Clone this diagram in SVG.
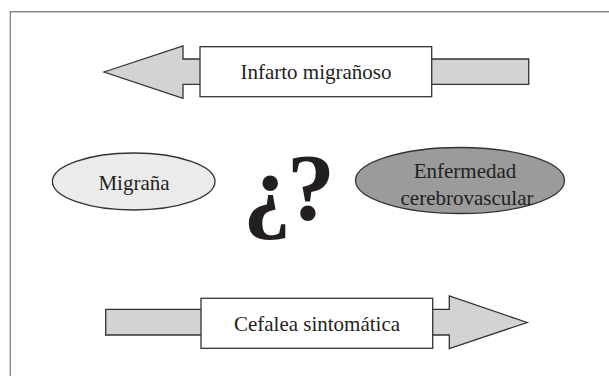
<svg xmlns="http://www.w3.org/2000/svg" width="609" height="376" viewBox="0 0 609 376">
<style>
.arrow{fill:#d3d3d3;stroke:#333;stroke-width:1.3;stroke-linejoin:miter}
.box{fill:#fff;stroke:#333;stroke-width:1.3}
.lbl{font-family:"Liberation Serif","Times New Roman",serif;font-size:21px;fill:#231f20;text-anchor:middle}
.q{font-family:"Liberation Serif","Times New Roman",serif;font-size:96px;font-weight:bold;fill:#231f20}
</style>
<rect width="609" height="376" fill="#fff"/>
<path d="M10.3 376 V11.7 H609" fill="none" stroke="#888" stroke-width="1.4"/>
<g id="connectors">
<polygon class="arrow" points="104,72 183,46 183,59 528.7,59 528.7,84.3 183,84.3 183,98.3"/>
<polygon class="arrow" points="527.3,322.5 449.3,296 449.3,309.3 105.7,309.3 105.7,335 449.3,335 449.3,348.5"/>
</g>
<g id="infarto">
<rect class="box" x="200" y="46.7" width="231.7" height="50"/>
<text class="lbl" x="316" y="79">Infarto migrañoso</text>
</g>
<g id="cefalea">
<rect class="box" x="201" y="298.3" width="231.7" height="50"/>
<text class="lbl" x="317" y="330.5">Cefalea sintomática</text>
</g>
<g id="migrana">
<ellipse cx="133.7" cy="181.5" rx="81.3" ry="28.5" fill="#ebebeb" stroke="#333" stroke-width="1.3"/>
<text class="lbl" x="134" y="189.5">Migraña</text>
</g>
<g id="enfermedad">
<ellipse cx="460" cy="180.5" rx="104.5" ry="33" fill="#9b9b9b" stroke="#333" stroke-width="1.3"/>
<text class="lbl" x="465" y="177.5">Enfermedad</text>
<text class="lbl" x="467" y="205">cerebrovascular</text>
</g>
<g id="pregunta">
<text class="q" y="220"><tspan x="243">¿</tspan><tspan x="287">?</tspan></text>
</g>
</svg>
